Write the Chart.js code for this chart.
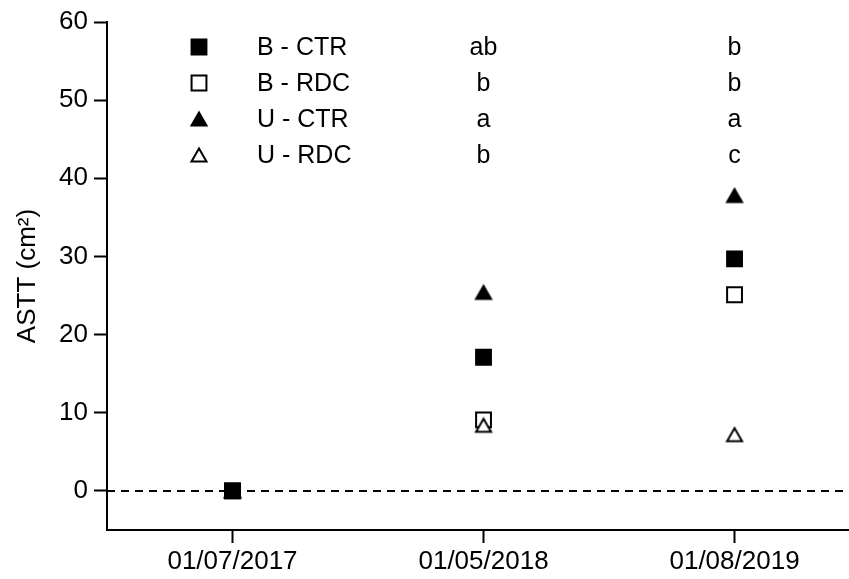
<!DOCTYPE html>
<html>
<head>
<meta charset="utf-8">
<script src="https://cdn.jsdelivr.net/npm/chart.js@4/dist/chart.umd.min.js"></script>
<style>
html, body { margin: 0; padding: 0; background: #fff; }
#wrap { width: 849px; height: 579px; }
</style>
</head>
<body>
<div id="wrap"><canvas id="astt"></canvas></div>
<script>
// sampling dates (x categories)
var dates = ['01/07/2017', '01/05/2018', '01/08/2019'];
var seriesNames = ['B - CTR', 'B - RDC', 'U - CTR', 'U - RDC'];

// ASTT values (cm2), one per date
var bCtr = [0, 17.1, 29.7];
var bRdc = [0, 9.1, 25.1];
var uCtr = [0, 25.4, 37.8];
var uRdc = [0, 8.4, 7.2];

// significance letters, in legend order
var letters2018 = ['ab', 'b', 'a', 'b'];
var letters2019 = ['b', 'b', 'a', 'c'];

var yTicks = [0, 10, 20, 30, 40, 50, 60];

Chart.defaults.font.family = "'Liberation Sans', Arial, sans-serif";
Chart.defaults.color = '#000';

function toPoints(vals) {
  return vals.map(function (v, i) { return { x: i, y: v }; });
}

// triangle marker centred on its bounding box (like the original software)
function triangleImage(fill) {
  var c = document.createElement('canvas');
  c.width = 20; c.height = 18;
  var g = c.getContext('2d');
  g.beginPath();
  g.moveTo(10, 2.5);
  g.lineTo(17.5, 15.5);
  g.lineTo(2.5, 15.5);
  g.closePath();
  g.fillStyle = fill;
  g.fill();
  g.lineWidth = 2;
  g.lineJoin = 'miter';
  g.strokeStyle = '#000';
  g.stroke();
  return c;
}

var markers = [
  { style: 'rect', radius: 10.5, fill: '#000', order: 0 },
  { style: 'rect', radius: 10.5, fill: '#fff', order: 2 },
  { style: triangleImage('#000'), radius: 10, fill: '#000', order: 3 },
  { style: triangleImage('#fff'), radius: 10, fill: '#fff', order: 1 }
];

var allValues = [bCtr, bRdc, uCtr, uRdc];

var datasets = allValues.map(function (vals, k) {
  var m = markers[k];
  return {
    label: seriesNames[k],
    data: toPoints(vals),
    order: m.order,
    showLine: false,
    pointStyle: m.style,
    pointRadius: m.radius,
    pointHoverRadius: m.radius,
    pointBackgroundColor: m.fill,
    pointBorderColor: '#000',
    pointBorderWidth: 2
  };
});

function drawMarker(ctx, m, x, y) {
  ctx.save();
  if (typeof m.style === 'object') {
    ctx.drawImage(m.style, x - m.style.width / 2, y - m.style.height / 2);
  } else {
    var s = Math.SQRT1_2 * m.radius;
    ctx.fillStyle = m.fill;
    ctx.strokeStyle = '#000';
    ctx.lineWidth = 2;
    ctx.beginPath();
    ctx.rect(x - s, y - s, 2 * s, 2 * s);
    ctx.fill();
    ctx.stroke();
  }
  ctx.restore();
}

var extras = {
  id: 'extras',
  beforeDatasetsDraw: function (chart) {
    var ctx = chart.ctx, area = chart.chartArea;
    var y0 = chart.scales.y.getPixelForValue(0);
    ctx.save();
    ctx.strokeStyle = '#000';
    ctx.lineWidth = 2;
    ctx.setLineDash([8, 6]);
    ctx.beginPath();
    ctx.moveTo(area.left, y0);
    ctx.lineTo(area.right, y0);
    ctx.stroke();
    ctx.restore();
  },
  afterDraw: function (chart) {
    var ctx = chart.ctx;
    var rows = [47, 83, 119, 155];
    var x1 = chart.scales.x.getPixelForValue(1);
    var x2 = chart.scales.x.getPixelForValue(2);
    ctx.save();
    ctx.font = "25px 'Liberation Sans', Arial, sans-serif";
    ctx.fillStyle = '#000';
    ctx.textBaseline = 'middle';
    seriesNames.forEach(function (name, k) {
      drawMarker(ctx, markers[k], 199, rows[k]);
      ctx.textAlign = 'left';
      ctx.fillText(name, 257, rows[k] + 1);
      ctx.textAlign = 'center';
      ctx.fillText(letters2018[k], x1, rows[k] + 1);
      ctx.fillText(letters2019[k], x2, rows[k] + 1);
    });
    ctx.restore();
  }
};

new Chart(document.getElementById('astt'), {
  type: 'scatter',
  data: { datasets: datasets },
  options: {
    responsive: true,
    maintainAspectRatio: false,
    animation: false,
    layout: { autoPadding: false, padding: { top: 22, left: 0, right: 0, bottom: 0 } },
    plugins: {
      legend: { display: false },
      tooltip: { enabled: false }
    },
    scales: {
      x: {
        type: 'linear',
        min: -0.5,
        max: 2.456,
        afterFit: function (s) { s.height = 49; },
        afterBuildTicks: function (s) {
          s.ticks = dates.map(function (d, i) { return { value: i }; });
        },
        ticks: {
          autoSkip: false,
          maxRotation: 0,
          padding: 3,
          font: { size: 26 },
          color: '#000',
          callback: function (v) { return dates[v] !== undefined ? dates[v] : ''; }
        },
        grid: {
          drawOnChartArea: false,
          drawTicks: true,
          tickLength: 13,
          tickWidth: 2,
          tickColor: '#000'
        },
        border: { display: true, color: '#000', width: 2 }
      },
      y: {
        type: 'linear',
        min: -5,
        max: 60,
        afterFit: function (s) { s.width = 107; },
        afterBuildTicks: function (s) {
          s.ticks = yTicks.map(function (v) { return { value: v }; });
        },
        ticks: {
          padding: 6,
          font: { size: 26 },
          color: '#000'
        },
        grid: {
          drawOnChartArea: false,
          drawTicks: true,
          tickLength: 13,
          tickWidth: 2,
          tickColor: '#000'
        },
        border: { display: true, color: '#000', width: 2 },
        title: {
          display: true,
          text: 'ASTT (cm²)',
          font: { size: 26 },
          color: '#000',
          padding: { top: 12, bottom: 0 }
        }
      }
    }
  },
  plugins: [extras]
});
</script>
</body>
</html>
